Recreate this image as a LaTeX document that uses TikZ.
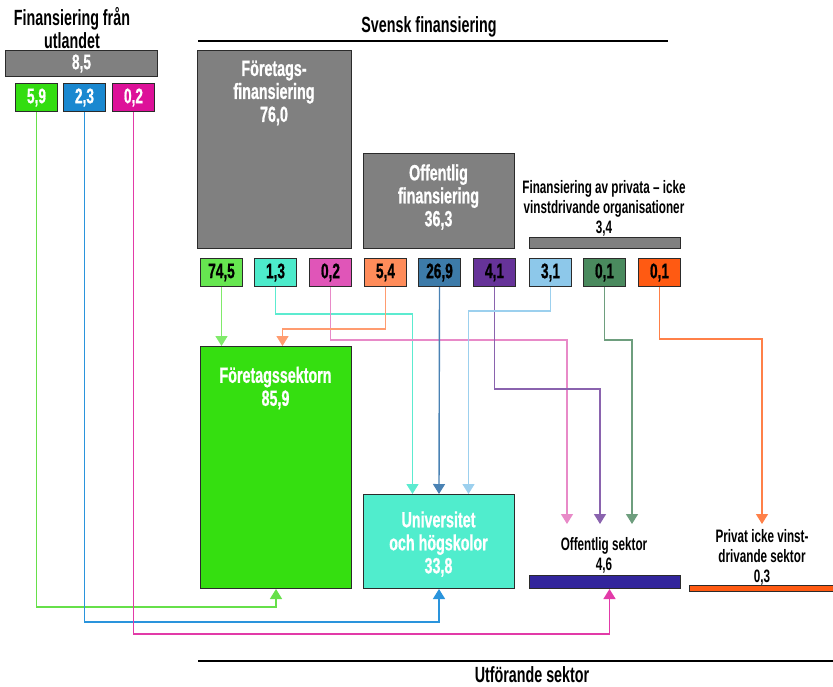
\documentclass[tikz,border=0pt]{standalone}
\usepackage{fontspec}
\setmainfont{Liberation Sans}[FakeStretch=0.65]
\newfontfamily\heavy{Liberation Sans}[FakeStretch=0.65, BoldFeatures={FakeBold=0.8}]
\usetikzlibrary{arrows.meta}
\definecolor{gbox}{HTML}{808080}
\definecolor{boxline}{HTML}{2B2B2B}
\definecolor{cGa}{HTML}{33DD11}
\definecolor{cBa}{HTML}{1A88D0}
\definecolor{cMa}{HTML}{DD1199}
\definecolor{cSa}{HTML}{66E650}
\definecolor{cTa}{HTML}{4DEBCB}
\definecolor{cPa}{HTML}{E055B8}
\definecolor{cOa}{HTML}{FF8C5A}
\definecolor{cSb}{HTML}{3D7BA9}
\definecolor{cVa}{HTML}{663399}
\definecolor{cLb}{HTML}{8DC8EA}
\definecolor{cDg}{HTML}{4A8A5E}
\definecolor{cOr}{HTML}{FF5A12}
\definecolor{cFs}{HTML}{35DF10}
\definecolor{cUn}{HTML}{50EDCD}
\definecolor{cNv}{HTML}{32259C}
% line colours
\definecolor{lGa}{HTML}{66E04A}
\definecolor{lBa}{HTML}{2A94DC}
\definecolor{lMa}{HTML}{E23AA8}
\definecolor{lSa}{HTML}{80EA6A}
\definecolor{lTa}{HTML}{5CEBD0}
\definecolor{lPa}{HTML}{E88AC8}
\definecolor{lOa}{HTML}{FF9C70}
\definecolor{lSb}{HTML}{4A82B4}
\definecolor{lVa}{HTML}{8A63AE}
\definecolor{lLb}{HTML}{9CD0EE}
\definecolor{lDg}{HTML}{6E9E7E}
\definecolor{lOr}{HTML}{FF8048}
\begin{document}
\begin{tikzpicture}[x=1pt,y=-1pt,
  ttl/.style={font=\fontsize{22}{23}\selectfont\bfseries, align=center, inner sep=0},
  wlbl/.style={font=\fontsize{22}{23}\selectfont\heavy\bfseries, align=center, inner sep=0, text=white},
  sml/.style={font=\fontsize{18}{20}\selectfont\bfseries, align=center, inner sep=0},
  num/.style={font=\fontsize{21}{22}\selectfont\heavy\bfseries},
  box/.style={draw=boxline, line width=1pt, inner sep=0, anchor=north west},
  sbox/.style={box, num, minimum width=42pt, minimum height=28pt},
  rule/.style={line width=1.2pt, draw=black},
  con/.style={line width=1.4pt},
  arr/.style={con, -{Triangle[width=12pt,length=10pt]}},
]
\useasboundingbox (0,0) rectangle (833,686);

% ---------- headings ----------
\node[ttl] (tFor) at (72,28) {Finansiering från\\utlandet};
\node[ttl] (tSv) at (429,27) {Svensk finansiering};
\coordinate (svA) at (198,41);
\coordinate (svB) at (668,41);
\draw[rule] (svA) -- (svB);

% ---------- foreign financing ----------
\node[box, fill=gbox, minimum width=152pt, minimum height=26pt,
      num, text=white] (b85) at (5,50) {8,5};
\node[sbox, fill=cGa, text=white] (b59) at (15,83) {5,9};
\node[sbox, fill=cBa, text=white] (b23) at (63,83) {2,3};
\node[sbox, fill=cMa, text=white] (b02m) at (112,83) {0,2};

% ---------- Swedish financing ----------
\node[box, fill=gbox, minimum width=154pt, minimum height=198pt] (fFin) at (197,50) {};
\node[wlbl] (fFinT) at (274,93) {Företags-\\finansiering\\76,0};
\node[box, fill=gbox, minimum width=151pt, minimum height=95pt] (oFin) at (363,153) {};
\node[wlbl] (oFinT) at (438.5,197) {Offentlig\\finansiering\\36,3};
\node[sml] (pFinT) at (604,208) {Finansiering av privata -- icke\\vinstdrivande organisationer\\3,4};
\node[box, fill=gbox, minimum width=151pt, minimum height=11pt] (pFin) at (529,237) {};

\node[sbox, fill=cSa] (b745) at (200,258) {74,5};
\node[sbox, fill=cTa] (b13) at (254,258) {1,3};
\node[sbox, fill=cPa] (b02) at (309,258) {0,2};
\node[sbox, fill=cOa] (b54) at (364,258) {5,4};
\node[sbox, fill=cSb] (b269) at (418,258) {26,9};
\node[sbox, fill=cVa] (b41) at (473,258) {4,1};
\node[sbox, fill=cLb] (b31) at (529,258) {3,1};
\node[sbox, fill=cDg] (b01g) at (583,258) {0,1};
\node[sbox, fill=cOr] (b01o) at (638,258) {0,1};

% ---------- performing sectors ----------
\node[box, fill=cFs, minimum width=151pt, minimum height=242pt] (fsek) at (200,346) {};
\node[wlbl] (fsekT) at (275.5,388) {Företagssektorn\\85,9};
\node[box, fill=cUn, minimum width=151pt, minimum height=94pt] (uni) at (363,494) {};
\node[wlbl] (uniT) at (438.5,544) {Universitet\\och högskolor\\33,8};
\node[sml] (offT) at (604,555) {Offentlig sektor\\4,6};
\node[box, fill=cNv, minimum width=151pt, minimum height=13pt] (offbar) at (529,575) {};
\node[sml] (prvT) at (762,557) {Privat icke vinst-\\drivande sektor\\0,3};
\node[box, fill=cOr, minimum width=146pt, minimum height=6pt] (prvbar) at (689,585) {};

\coordinate (utA) at (198,661);
\coordinate (utB) at (833,661);
\draw[rule] (utA) -- (utB);
\node[ttl, anchor=base] (tUt) at (532,682) {Utförande sektor};

% ---------- arrow targets ----------
\coordinate (fIn) at ([xshift=6.5pt]fsek.north);
\coordinate (uIa) at ([xshift=-26.5pt]uni.north);
\coordinate (uIc) at ([xshift=29.5pt]uni.north);
\coordinate (oIa) at (567,524);
\coordinate (oIb) at (600,524);
\coordinate (oIc) at (632,524);
\coordinate (pIn) at (762,524);
\coordinate (oUp) at ([xshift=4.5pt]offbar.south);

% ---------- connectors ----------
\draw[arr, lGa] (b59.south) |- (fsek.south |- 0,607) -- (fsek.south);
\draw[arr, lBa] (b23.south) |- (uni.south |- 0,622) -- (uni.south);
\draw[arr, lMa] (b02m.south) |- (oUp |- 0,634) -- (oUp);

\draw[arr, lSa] (b745.south) -- (b745.south |- fsek.north);
\draw[arr, lTa] (b13.south) |- (uIa |- 0,314) -- (uIa);
\draw[arr, lPa] (b02.south) |- (oIa |- 0,340) -- (oIa);
\draw[arr, lOa] (b54.south) |- (fIn |- 0,329) -- (fIn);
\draw[arr, lSb] (b269.south) -- (uni.north);
\draw[arr, lVa] (b41.south) |- (oIb |- 0,389) -- (oIb);
\draw[arr, lLb] (b31.south) |- (uIc |- 0,311) -- (uIc);
\draw[arr, lDg] (b01g.south) |- (oIc |- 0,340) -- (oIc);
\draw[arr, lOr] (b01o.south) |- (pIn |- 0,339) -- (pIn);
\end{tikzpicture}
\end{document}
